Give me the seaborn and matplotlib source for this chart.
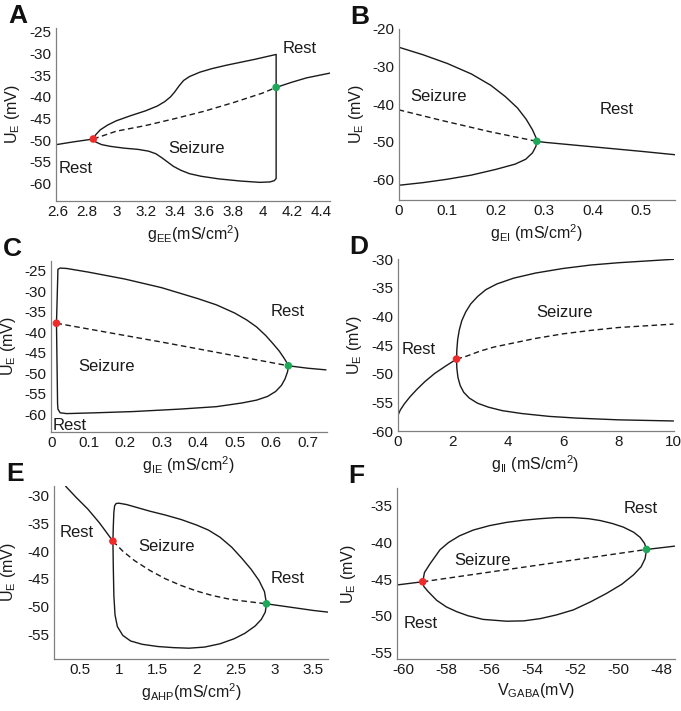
import numpy as np
import pandas as pd
import seaborn as sns
import matplotlib.pyplot as plt
from matplotlib.ticker import FuncFormatter

sns.set_theme(style="white")
plt.rcParams['font.family'] = ['Liberation Sans', 'DejaVu Sans']
plt.rcParams['mathtext.default'] = 'regular'
plt.rcParams['axes.unicode_minus'] = False

# ---------------- data ----------------
# A : g_EE
A_rest_left = [(2.59, -51.0), (2.70, -50.4), (2.843, -49.7)]
A_unstable = [(2.843, -49.7), (3.0, -47.9), (3.2, -46.6), (3.4, -45.0), (3.6, -43.3),
              (3.8, -41.3), (4.0, -39.1), (4.092, -37.8)]
A_rest_right = [(4.092, -37.8), (4.2, -36.6), (4.3, -35.6), (4.46, -34.5)]
A_cycle = [(2.843, -49.7), (2.86, -48.7), (2.89, -47.6), (2.94, -46.5), (3.0, -45.5),
           (3.1, -44.3), (3.2, -43.2), (3.28, -42.1), (3.33, -41.1), (3.37, -40.0),
           (3.40, -38.8), (3.43, -37.4), (3.46, -36.2), (3.50, -35.3), (3.57, -34.3),
           (3.65, -33.5), (3.75, -32.7), (3.85, -32.0), (3.95, -31.3), (4.04, -30.6),
           (4.092, -30.2), (4.092, -58.8), (4.08, -59.3), (4.05, -59.6), (3.98, -59.7),
           (3.85, -59.4), (3.70, -58.9), (3.58, -58.3), (3.50, -57.7), (3.44, -56.9),
           (3.39, -56.0), (3.35, -55.0), (3.31, -54.0), (3.27, -53.1), (3.22, -52.5),
           (3.15, -52.1), (3.05, -51.8), (2.96, -51.4), (2.90, -51.0), (2.86, -50.4),
           (2.843, -49.7)]
A_hopf = [(2.843, -49.7)]
A_fold = [(4.092, -37.8)]

# B : g_EI
B_unstable = [(0.0, -41.5), (0.085, -44.2), (0.188, -47.3), (0.285, -49.85)]
B_rest = [(0.285, -49.85), (0.30, -50.1), (0.35, -50.7), (0.40, -51.3), (0.45, -51.9),
          (0.50, -52.5), (0.57, -53.4)]
B_cycle = [(0.0, -24.9), (0.05, -26.9), (0.10, -29.2), (0.15, -32.0), (0.19, -35.0),
           (0.22, -38.0), (0.245, -41.0), (0.263, -44.0), (0.276, -46.8), (0.283, -48.8),
           (0.285, -49.85), (0.283, -51.2), (0.276, -52.9), (0.262, -54.6), (0.24, -55.9),
           (0.20, -57.3), (0.15, -58.8), (0.10, -59.9), (0.05, -60.8), (0.0, -61.5)]
B_fold = [(0.285, -49.85)]

# C : g_IE
C_unstable = [(0.012, -37.8), (0.30, -42.4), (0.647, -48.2)]
C_rest = [(0.647, -48.2), (0.70, -48.8), (0.75, -49.2)]
C_cycle = [(0.012, -37.8), (0.014, -31.3), (0.016, -24.6), (0.022, -24.3), (0.04, -24.4),
           (0.1, -25.3), (0.2, -27.0), (0.3, -29.1), (0.4, -31.8), (0.45, -33.3),
           (0.5, -35.3), (0.533, -37.0), (0.56, -38.7), (0.585, -40.8), (0.605, -42.8),
           (0.622, -44.6), (0.635, -46.3), (0.644, -47.6), (0.647, -48.2), (0.645, -49.6),
           (0.638, -51.4), (0.628, -53.0), (0.612, -54.5), (0.59, -55.7), (0.56, -56.6),
           (0.52, -57.3), (0.45, -58.2), (0.35, -58.8), (0.222, -59.4), (0.12, -59.7),
           (0.04, -59.9), (0.022, -59.7), (0.016, -58.8), (0.015, -57.5), (0.012, -37.8)]
C_hopf = [(0.012, -37.8)]
C_fold = [(0.647, -48.2)]

# D : g_II
D_rest = [(0.0, -57.4), (0.1, -56.3), (0.25, -55.2), (0.45, -54.0), (0.7, -52.7),
          (1.0, -51.3), (1.35, -49.9), (1.75, -48.6), (2.14, -47.4)]
D_unstable = [(2.14, -47.4), (2.5, -46.9), (3.0, -46.0), (3.5, -45.3), (4.0, -44.8),
              (5.0, -43.8), (6.0, -43.0), (7.0, -42.4), (8.0, -41.9), (9.0, -41.6),
              (10.0, -41.3)]
D_upper = [(2.14, -47.4), (2.15, -45.8), (2.18, -44.0), (2.24, -42.3), (2.33, -40.7),
           (2.47, -39.2), (2.65, -37.8), (2.9, -36.5), (3.2, -35.3), (3.6, -34.3),
           (4.2, -33.3), (5.0, -32.4), (6.0, -31.6), (7.0, -31.0), (8.0, -30.6),
           (9.0, -30.3), (10.0, -30.0)]
D_lower = [(2.14, -47.4), (2.15, -49.0), (2.19, -50.6), (2.27, -52.0), (2.4, -53.2),
           (2.6, -54.2), (2.9, -55.1), (3.3, -55.8), (3.8, -56.4), (4.5, -56.9),
           (5.5, -57.4), (6.5, -57.7), (8.0, -58.0), (10.0, -58.2)]
D_hopf = [(2.14, -47.4)]

# E : g_AHP
E_rest_left = [(0.316, -28.3), (0.45, -30.3), (0.6, -32.4), (0.75, -34.9), (0.923, -38.2)]
E_unstable = [(0.923, -38.2), (1.05, -40.0), (1.2, -41.7), (1.4, -43.5), (1.6, -45.0),
              (1.8, -46.2), (2.0, -47.2), (2.2, -48.0), (2.4, -48.6), (2.6, -49.0),
              (2.896, -49.5)]
E_rest_right = [(2.896, -49.5), (3.1, -49.9), (3.3, -50.3), (3.5, -50.7), (3.688, -51.0)]
E_cycle = [(0.923, -38.2), (0.928, -35.5), (0.935, -33.0), (0.945, -31.8), (0.965, -31.4),
           (1.0, -31.35), (1.1, -31.6), (1.25, -32.2), (1.4, -32.8), (1.6, -33.5),
           (1.8, -34.3), (2.0, -35.3), (2.15, -36.2), (2.3, -37.5), (2.45, -39.3),
           (2.58, -41.3), (2.7, -43.3), (2.8, -45.3), (2.87, -47.3), (2.896, -49.5),
           (2.88, -51.0), (2.83, -52.3), (2.75, -53.5), (2.62, -54.8), (2.48, -55.8),
           (2.3, -56.7), (2.1, -57.3), (1.9, -57.5), (1.7, -57.4), (1.5, -57.2),
           (1.3, -56.8), (1.15, -56.2), (1.05, -55.2), (0.98, -53.6), (0.95, -51.5),
           (0.935, -48.0), (0.928, -43.0), (0.923, -38.2)]
E_hopf = [(0.923, -38.2)]
E_fold = [(2.896, -49.5)]

# F : V_GABA
F_rest_left = [(-60.3, -45.8), (-59.1, -45.36)]
F_unstable = [(-59.1, -45.36), (-48.70, -40.95)]
F_rest_right = [(-48.70, -40.95), (-47.4, -40.5)]
F_cycle = [(-59.1, -45.36), (-59.02, -44.1), (-58.76, -42.9), (-58.3, -41.0), (-57.9, -40.0),
           (-57.4, -39.1), (-56.75, -38.3), (-56.0, -37.7), (-55.2, -37.25), (-54.4, -36.95),
           (-53.65, -36.75), (-52.9, -36.6), (-52.1, -36.6), (-51.4, -36.75), (-50.86, -37.0),
           (-50.3, -37.4), (-49.78, -37.9), (-49.3, -38.6), (-49.0, -39.3), (-48.8, -40.1),
           (-48.70, -40.95), (-48.77, -42.2), (-48.95, -43.3), (-49.3, -44.4), (-49.85, -45.7),
           (-50.56, -46.95), (-51.3, -48.1), (-52.1, -49.2), (-52.9, -49.9), (-53.65, -50.4),
           (-54.4, -50.7), (-55.2, -50.75), (-56.3, -50.5), (-57.0, -50.0), (-57.52, -49.45),
           (-58.0, -48.8), (-58.45, -47.9), (-58.85, -46.7), (-59.05, -46.0), (-59.1, -45.36)]
F_hopf = [(-59.1, -45.36)]
F_fold = [(-48.70, -40.95)]

RED = "#ee2a2a"
GREEN = "#1fa75a"
LINE = "#1a1a1a"


def curve(ax, pts, dashed=False):
    df = pd.DataFrame(pts, columns=["x", "y"])
    sns.lineplot(data=df, x="x", y="y", sort=False, estimator=None, ax=ax,
                 color=LINE, lw=1.0, linestyle=(0, (4, 2.5)) if dashed else "-")


def dot(ax, pts, color):
    df = pd.DataFrame(pts, columns=["x", "y"])
    sns.scatterplot(data=df, x="x", y="y", ax=ax, color=color, s=30,
                    edgecolor="none", zorder=5)


fig = plt.figure(figsize=(6.81, 7.11), dpi=100)
W, H = 681, 711


def panel(l, r, t, b, letter, xlabel, xlim, ylim, xticks, yticks, ylab_off=42):
    ax = fig.add_axes([l / W, 1 - b / H, (r - l) / W, (b - t) / H])
    ax.set_xlim(*xlim)
    ax.set_ylim(*ylim)
    ax.set_xticks(xticks)
    ax.set_yticks(yticks)
    ax.xaxis.set_major_formatter(FuncFormatter(lambda v, p: f"{v:g}"))
    ax.yaxis.set_major_formatter(FuncFormatter(lambda v, p: f"{v:g}"))
    for s in ["top", "right"]:
        ax.spines[s].set_visible(False)
    for s in ["left", "bottom"]:
        ax.spines[s].set_color("#808080")
        ax.spines[s].set_linewidth(0.9)
    ax.tick_params(direction="in", length=3, width=0.8, color="#808080",
                   labelsize=11, labelcolor="#1a1a1a", pad=3)
    for lab in ax.get_xticklabels() + ax.get_yticklabels():
        lab.set_family(["Liberation Sans Narrow", "Liberation Sans", "DejaVu Sans"])
    ax.set_xlabel(xlabel, fontsize=11.5, color="#1a1a1a")
    ax.set_ylabel("U$_E$ (mV)", fontsize=11.5, color="#1a1a1a")
    ax.xaxis.set_label_coords(0.5, -22 / (b - t))
    ax.yaxis.set_label_coords(-(ylab_off - 9) / (r - l), 0.5)
    fig.text((l - 48) / W, 1 - (t - 12) / H, letter, fontsize=19, fontweight="bold",
             color="#111111", va="center", ha="left")
    return ax


def label(ax, x, y, s):
    ax.text(x, y, s, fontsize=12, ha="center", va="center", color="#1a1a1a")


# A
ax = panel(56, 330, 28, 201, "A", "g$_{EE}$(mS/cm$^2$)", (2.588, 4.46), (-64, -24.1),
           np.round(np.arange(2.6, 4.41, 0.2), 1), np.arange(-60, -24, 5), 43)
curve(ax, A_rest_left); curve(ax, A_rest_right); curve(ax, A_cycle)
curve(ax, A_unstable, dashed=True)
dot(ax, A_hopf, RED); dot(ax, A_fold, GREEN)
label(ax, 4.256, -28.9, "Rest"); label(ax, 2.724, -56.5, "Rest"); label(ax, 3.55, -52.0, "Seizure")

# B
ax = panel(398.7, 675, 28.7, 200, "B", "g$_{EI}$ (mS/cm$^2$)", (0, 0.57), (-65.4, -20),
           np.round(np.arange(0, 0.51, 0.1), 1), np.arange(-60, -19, 10), 42)
curve(ax, B_rest); curve(ax, B_cycle); curve(ax, B_unstable, dashed=True)
dot(ax, B_fold, GREEN)
label(ax, 0.0825, -38.0, "Seizure"); label(ax, 0.45, -41.5, "Rest")

# C
ax = panel(51, 326.7, 260.7, 432, "C", "g$_{IE}$ (mS/cm$^2$)", (-0.003, 0.752), (-64.4, -22.5),
           np.round(np.arange(0, 0.71, 0.1), 1), np.arange(-60, -24, 5), 42)
curve(ax, C_rest); curve(ax, C_cycle); curve(ax, C_unstable, dashed=True)
dot(ax, C_hopf, RED); dot(ax, C_fold, GREEN)
label(ax, 0.645, -35.0, "Rest"); label(ax, 0.148, -48.4, "Seizure"); label(ax, 0.048, -62.9, "Rest")

# D
ax = panel(397.5, 673.5, 259.3, 431.3, "D", "g$_{II}$ (mS/cm$^2$)", (0, 10), (-60, -30),
           np.arange(0, 11, 2), np.arange(-60, -29, 5), 42)
curve(ax, D_rest); curve(ax, D_upper); curve(ax, D_lower); curve(ax, D_unstable, dashed=True)
dot(ax, D_hopf, RED)
label(ax, 6.04, -39.2, "Seizure"); label(ax, 0.785, -45.8, "Rest")

# E
ax = panel(54, 328.3, 486, 659, "E", "g$_{AHP}$(mS/cm$^2$)", (0.166, 3.69), (-59.45, -28.25),
           np.arange(0.5, 3.6, 0.5), np.arange(-55, -29, 5), 45)
curve(ax, E_rest_left); curve(ax, E_rest_right); curve(ax, E_cycle)
curve(ax, E_unstable, dashed=True)
dot(ax, E_hopf, RED); dot(ax, E_fold, GREEN)
label(ax, 0.457, -36.7, "Rest"); label(ax, 1.608, -39.2, "Seizure"); label(ax, 3.17, -45.0, "Rest")

# F
ax = panel(396.7, 675, 488.3, 659.3, "F", "V$_{GABA}$(mV)", (-60.31, -47.38), (-55.95, -32.6),
           np.arange(-60, -47, 2), np.arange(-55, -34, 5), 48)
curve(ax, F_rest_left); curve(ax, F_rest_right); curve(ax, F_cycle)
curve(ax, F_unstable, dashed=True)
dot(ax, F_hopf, RED); dot(ax, F_fold, GREEN)
label(ax, -56.3, -42.4, "Seizure"); label(ax, -48.96, -35.4, "Rest"); label(ax, -59.18, -51.1, "Rest")

fig.savefig("out.png", dpi=100, facecolor="white")
